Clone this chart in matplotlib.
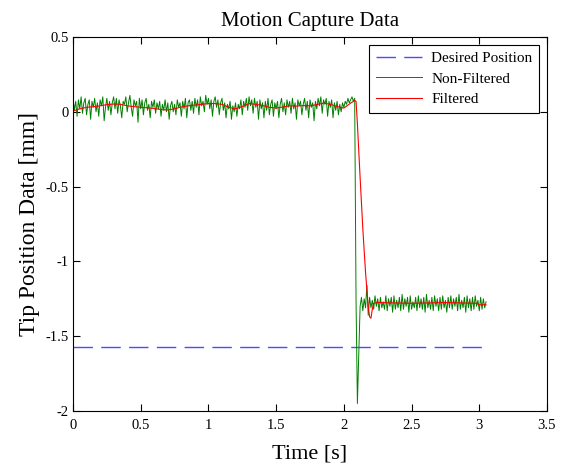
import numpy as np
import matplotlib
matplotlib.use("Agg")
import matplotlib.pyplot as plt
from matplotlib.ticker import FixedLocator, FuncFormatter

plt.rcParams['font.family'] = ['Liberation Serif', 'DejaVu Serif']
plt.rcParams['axes.unicode_minus'] = False

dt = 0.01
raw_pre = [
    0.09, 0.01, 0.07, -0.03, 0.08, 0.02, 0.10, -0.01, 0.06, 0.09,
    -0.02, 0.05, 0.08, -0.05, 0.07, 0.03, 0.09, 0.00, 0.06, -0.03,
    0.08, 0.04, 0.10, -0.06, 0.03, 0.09, 0.01, 0.07, -0.02, 0.06,
    0.10, 0.02, 0.09, -0.01, 0.08, 0.04, -0.04, 0.07, 0.05, 0.10,
    0.00, 0.06, 0.11, 0.03, -0.03, 0.08, 0.04, 0.07, -0.07, 0.09,
    0.02, 0.08, -0.02, 0.06, 0.09, 0.01, 0.05, -0.04, 0.07, 0.03,
    0.08, -0.01, 0.06, 0.02, 0.07, -0.03, 0.05, 0.01, 0.08, 0.00,
    0.06, -0.05, 0.04, 0.07, 0.00, 0.05, -0.02, 0.08, 0.03, 0.06,
    -0.03, 0.07, 0.02, 0.09, -0.04, 0.06, 0.08, 0.01, 0.07, -0.01,
    0.09, 0.03, 0.08, -0.02, 0.10, 0.04, 0.07, 0.00, 0.11, 0.05,
    0.09, 0.02, 0.08, -0.03, 0.07, 0.10, 0.03, 0.08, -0.02, 0.06,
    0.09, 0.01, 0.06, -0.04, 0.05, 0.02, 0.07, -0.05, 0.04, 0.00,
    0.06, -0.03, 0.05, 0.02, 0.08, -0.02, 0.07, 0.03, 0.09, 0.01,
    0.10, 0.04, 0.08, -0.01, 0.09, 0.03, 0.07, -0.05, 0.08, 0.02,
    0.06, -0.04, 0.07, 0.01, 0.09, -0.02, 0.05, 0.08, -0.03, 0.06,
    0.02, 0.07, -0.04, 0.05, 0.09, 0.00, 0.06, -0.02, 0.08, 0.03,
    0.07, -0.01, 0.09, 0.02, 0.06, -0.05, 0.08, 0.04, 0.07, -0.02,
    0.05, 0.09, 0.01, 0.07, -0.04, 0.08, 0.03, 0.06, -0.06, 0.07,
    0.02, 0.09, 0.04, 0.10, -0.01, 0.08, 0.05, 0.09, -0.03, 0.07,
    0.03, 0.08, -0.04, 0.06, 0.01, 0.07, -0.02, 0.05, 0.00, 0.06,
    0.03, 0.07, 0.05, 0.09, 0.06, 0.08, 0.10, 0.07, 0.09,
]
raw_post = [
    -1.26, -1.95, -1.62, -1.30, -1.24, -1.33, -1.25, -1.31, -1.16, -1.36,
    -1.24, -1.31, -1.26, -1.32, -1.23, -1.30, -1.25, -1.33, -1.24, -1.31,
    -1.27, -1.32, -1.23, -1.33, -1.25, -1.30, -1.24, -1.34, -1.23, -1.32,
    -1.26, -1.31, -1.24, -1.33, -1.22, -1.32, -1.25, -1.30, -1.24, -1.34,
    -1.23, -1.32, -1.27, -1.31, -1.24, -1.33, -1.23, -1.31, -1.25, -1.32,
    -1.24, -1.34, -1.22, -1.31, -1.26, -1.32, -1.24, -1.33, -1.23, -1.30,
    -1.25, -1.33, -1.24, -1.32, -1.23, -1.31, -1.26, -1.34, -1.24, -1.31,
    -1.23, -1.32, -1.25, -1.30, -1.24, -1.33, -1.22, -1.32, -1.26, -1.31,
    -1.24, -1.34, -1.23, -1.31, -1.25, -1.33, -1.24, -1.32, -1.23, -1.30,
    -1.26, -1.33, -1.24, -1.32, -1.25, -1.31, -1.27,
]
raw_y = raw_pre + raw_post
raw_t = np.arange(len(raw_y)) * dt

filt_t = [0.00, 0.05, 0.10, 0.15, 0.20, 0.25, 0.30, 0.35, 0.40, 0.45,
          0.50, 0.55, 0.60, 0.65, 0.70, 0.75, 0.80, 0.85, 0.90, 0.95,
          1.00, 1.05, 1.10, 1.15, 1.20, 1.25, 1.30, 1.35, 1.40, 1.45,
          1.50, 1.55, 1.60, 1.65, 1.70, 1.75, 1.80, 1.85, 1.90, 1.95,
          2.00, 2.05, 2.08, 2.09, 2.10, 2.11, 2.12, 2.13, 2.14, 2.15,
          2.16, 2.17, 2.18, 2.19, 2.20, 2.21, 2.22, 2.25, 2.50, 2.75,
          2.98, 3.00, 3.05]
filt_y = [0.005, 0.02, 0.03, 0.034, 0.04, 0.048, 0.052, 0.05, 0.04, 0.035,
          0.03, 0.027, 0.022, 0.015, 0.012, 0.02, 0.032, 0.04, 0.045, 0.05,
          0.055, 0.055, 0.05, 0.03, 0.02, 0.035, 0.055, 0.05, 0.042, 0.03,
          0.025, 0.032, 0.04, 0.038, 0.042, 0.04, 0.048, 0.058, 0.05, 0.035,
          0.025, 0.058, 0.075, 0.07, -0.08, -0.26, -0.44, -0.61, -0.78, -0.93,
          -1.07, -1.19, -1.30, -1.37, -1.38, -1.32, -1.28, -1.275, -1.28, -1.275,
          -1.28, -1.29, -1.29]

desired_t = [0.0, 3.05]
desired_y = [-1.57, -1.57]

x_ticks = [0, 0.5, 1, 1.5, 2, 2.5, 3, 3.5]
y_ticks = [-2, -1.5, -1, -0.5, 0, 0.5]

fig = plt.figure(figsize=(5.66, 4.65), dpi=100)
ax = fig.add_axes([73/566, 1-411/465, (547-73)/566, (411-37)/465])

ax.plot(desired_t, desired_y, color='#4b4bff', lw=1.0, dashes=(14, 6),
        label='Desired Position')
ax.plot(raw_t, raw_y, color='#008000', lw=0.7, label='Non-Filtered')
ax.plot(filt_t, filt_y, color='#ff0000', lw=0.8, label='Filtered')

ax.set_xlim(0, 3.5)
ax.set_ylim(-2, 0.5)
ax.xaxis.set_major_locator(FixedLocator(x_ticks))
ax.yaxis.set_major_locator(FixedLocator(y_ticks))
fmt = FuncFormatter(lambda v, p: '%g' % v)
ax.xaxis.set_major_formatter(fmt)
ax.yaxis.set_major_formatter(fmt)
ax.tick_params(direction='in', top=True, right=True, length=5, width=0.8,
               labelsize=10.5)
ax.tick_params(axis='x', pad=6)
ax.tick_params(axis='y', pad=3)
for s in ax.spines.values():
    s.set_linewidth(0.8)

ax.set_title('Motion Capture Data', fontsize=15, pad=8)
ax.set_xlabel('Time [s]', fontsize=16, labelpad=9)
ax.set_ylabel('Tip Position Data [mm]', fontsize=17, labelpad=4)

leg = ax.legend(loc='upper right', fontsize=11, frameon=True, fancybox=False,
                edgecolor='black', framealpha=1, handlelength=3.0,
                borderaxespad=0.5, borderpad=0.45, labelspacing=0.45,
                handletextpad=0.6)
leg.get_frame().set_linewidth(0.8)

fig.savefig('out.png', dpi=100)
